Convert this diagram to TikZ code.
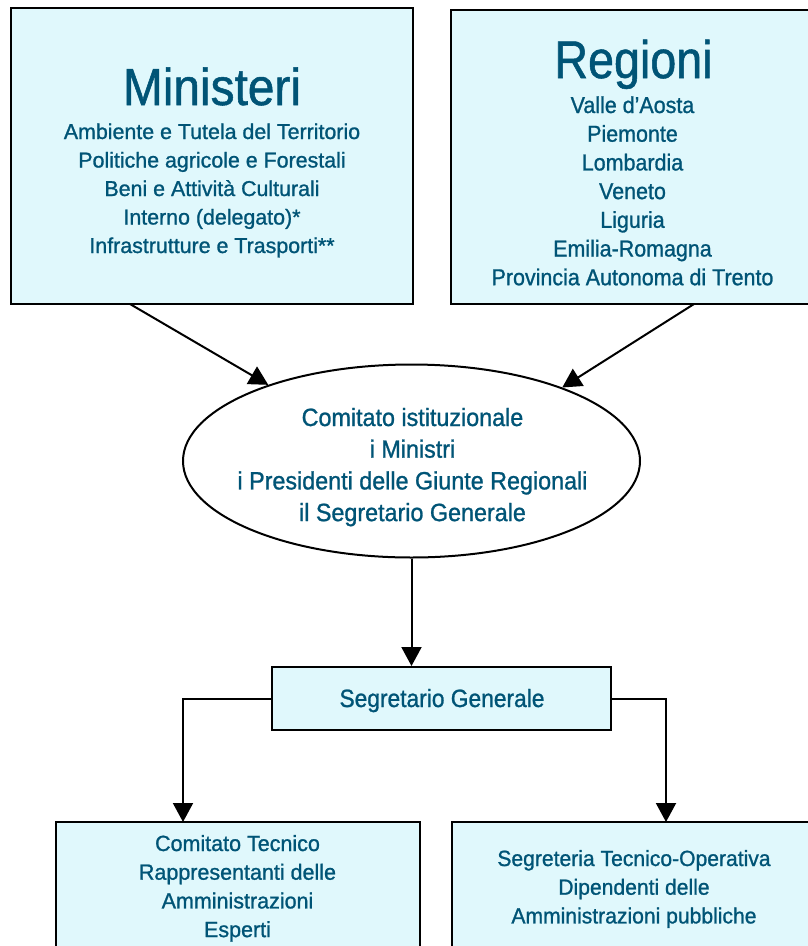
\documentclass[tikz,border=0pt]{standalone}
\usepackage{fontspec}
\usepackage{graphicx}
\setmainfont[FakeStretch=0.88,FakeBold=1.0]{Liberation Sans}
\usetikzlibrary{arrows.meta,shapes.geometric}
\definecolor{txt}{RGB}{0,84,118}
\definecolor{boxfill}{RGB}{224,248,252}
\newcommand\hs[2]{\scalebox{#1}[1]{#2}}
\begin{document}
\begin{tikzpicture}[x=1pt,y=-1pt,
  box/.style={draw=black,line width=2pt,fill=boxfill,inner sep=0pt},
  lbl/.style={text=txt,inner sep=0pt,anchor=base},
  arr/.style={line width=2pt,-{Triangle[width=20pt,length=19pt]}}]
\useasboundingbox (0,0) rectangle (807,946);
% boxes
\node[box,minimum width=402pt,minimum height=296pt] (min) at (212,156) {};
\node[box,minimum width=380pt,minimum height=294pt] (reg) at (641,157) {};
\node[draw=black,line width=2pt,fill=white,ellipse,inner sep=0pt,minimum width=457pt,minimum height=193pt] (com) at (411.5,461) {};
\node[box,minimum width=339pt,minimum height=63pt] (sg) at (441.5,698.5) {};
\node[box,minimum width=364pt,minimum height=140pt] (ct) at (238,892) {};
\node[box,minimum width=380pt,minimum height=140pt] (st) at (642,892) {};
% titles
\node[lbl,font=\fontsize{52}{60}\selectfont] (mt) at (212,105) {\hs{1.045}{Ministeri}};
\node[lbl,font=\fontsize{53}{60}\selectfont] (rt) at (633.5,78) {Regioni};
% Ministeri list
\foreach \t [count=\i] in {Ambiente e Tutela del Territorio,Politiche agricole e Forestali,Beni e Attività Culturali,Interno (delegato)*,Infrastrutture e Trasporti**}
  \node[lbl,font=\fontsize{21.5}{24}\selectfont] (m\i) at (212,{139+28.5*(\i-1)}) {\hs{1.13}{\t}};
% Regioni list
\foreach \t [count=\i] in {Valle d’Aosta,Piemonte,Lombardia,Veneto,Liguria,Emilia-Romagna,Provincia Autonoma di Trento}
  \node[lbl,font=\fontsize{23}{24}\selectfont] (r\i) at (632.5,{113+28.7*(\i-1)}) {\hs{1.06}{\t}};
% ellipse text
\foreach \t [count=\i] in {Comitato istituzionale,i Ministri,i Presidenti delle Giunte Regionali,il Segretario Generale}
  \node[lbl,font=\fontsize{25}{28}\selectfont] (c\i) at (412.5,{426+31.7*(\i-1)}) {\hs{1.06}{\t}};
% segretario
\node[lbl,font=\fontsize{25}{28}\selectfont] (sgt) at (442,707) {\hs{1.035}{Segretario Generale}};
% bottom left
\foreach \t [count=\i] in {Comitato Tecnico,Rappresentanti delle,Amministrazioni,Esperti}
  \node[lbl,font=\fontsize{22}{24}\selectfont] (b\i) at (237.5,{851+28.7*(\i-1)}) {\hs{1.11}{\t}};
% bottom right
\foreach \t [count=\i] in {Segreteria Tecnico-Operativa,Dipendenti delle,Amministrazioni pubbliche}
  \node[lbl,font=\fontsize{22}{24}\selectfont] (d\i) at (634,{866+28.7*(\i-1)}) {\hs{1.09}{\t}};
% connectors
\coordinate (ma) at (130,304);
\coordinate (ra) at (694,304);
\coordinate (lk) at (183,822);
\coordinate (rk) at (666,822);
\draw[arr] (ma) -- (com.152);
\draw[arr] (ra) -- (com.26);
\draw[arr] (com.south) -- (com.south |- sg.north);
\draw[arr] (sg.west) -| (lk);
\draw[arr] (sg.east) -| (rk);
\end{tikzpicture}
\end{document}
